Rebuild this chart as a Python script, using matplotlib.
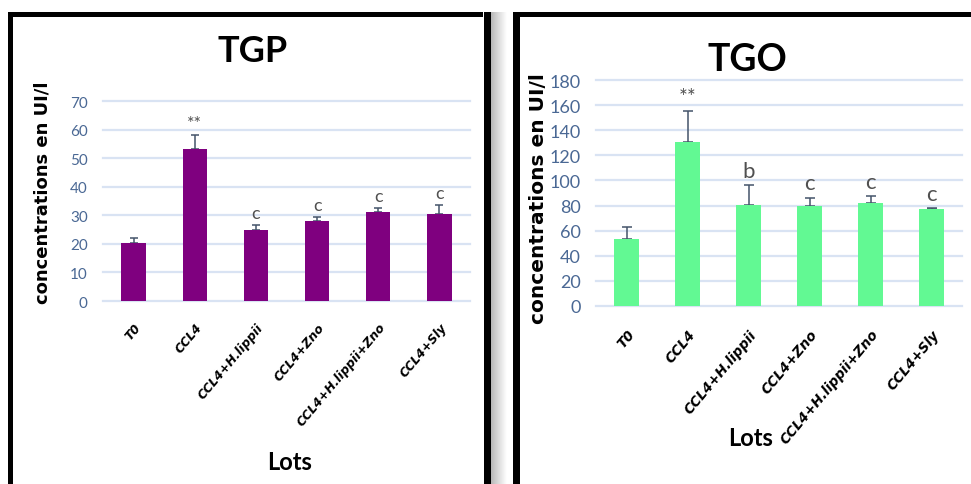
import numpy as np
import matplotlib
matplotlib.use("Agg")
import matplotlib.pyplot as plt
from matplotlib.patches import Rectangle

# ---- data -------------------------------------------------------------
lots = ["T0", "CCL4", "CCL4+H.lippii", "CCL4+Zno", "CCL4+H.lippii+Zno", "CCL4+Sly"]

tgp = [20.2, 53.2, 25.0, 27.9, 31.0, 30.4]
tgp_err = [2.0, 4.8, 1.5, 1.4, 1.5, 3.2]
tgp_sig = ["", "**", "c", "c", "c", "c"]

tgo = [53.2, 130.3, 80.6, 79.3, 81.9, 77.1]
tgo_err = [9.6, 25.0, 15.7, 7.1, 5.8, 1.1]
tgo_sig = ["", "**", "b", "c", "c", "c"]

tgp_ticks = [0, 10, 20, 30, 40, 50, 60, 70]
tgo_ticks = [0, 20, 40, 60, 80, 100, 120, 140, 160, 180]

# ---- style ------------------------------------------------------------
W, H, DPI = 971, 485, 100
NARROW = ["Lato", "DejaVu Sans"]
ITAL = ["DejaVu Sans"]
WIDE = ["DejaVu Sans"]
PURPLE = "#7F007F"
GREEN = "#62F993"
ERR = "#44546A"
TICK = "#4A6894"
GRID = "#D9E3F3"

fig = plt.figure(figsize=(W / DPI, H / DPI), dpi=DPI)
fig.patch.set_facecolor("white")

# background layer in pixel units for the two framed panels
bg = fig.add_axes([0, 0, 1, 1], zorder=-1)
bg.set_xlim(0, W)
bg.set_ylim(H, 0)
bg.axis("off")
# soft drop shadow to the right of the left frame
grad = np.linspace(0.62, 1.0, 64)[None, :] ** 0.7
bg.imshow(grad, extent=(491, 507, H, 13), cmap="gray", vmin=0, vmax=1,
          aspect="auto", interpolation="bilinear", zorder=0)
# left frame
bg.add_patch(Rectangle((8, 13), 483 - 8, 5, color="black", lw=0, zorder=2))
bg.add_patch(Rectangle((8, 13), 5, H, color="black", lw=0, zorder=2))
bg.add_patch(Rectangle((484, 13), 7, H, color="black", lw=0, zorder=2))
# right frame
bg.add_patch(Rectangle((513, 13), W, 5, color="black", lw=0, zorder=2))
bg.add_patch(Rectangle((513, 13), 7, H, color="black", lw=0, zorder=2))
bg.set_xlim(0, W)
bg.set_ylim(H, 0)


def px_axes(x0, ytop, x1, ybot):
    return fig.add_axes([x0 / W, 1 - ybot / H, (x1 - x0) / W, (ybot - ytop) / H])


def panel(ax, vals, errs, sig, ticks, color, title, cfg):
    x = np.arange(len(lots))
    ax.set_facecolor("none")
    ax.set_xlim(-0.5, len(lots) - 0.5)
    ax.set_ylim(ticks[0], ticks[-1])
    for t in ticks:
        ax.axhline(t, color=GRID, lw=1.6, zorder=1, clip_on=False)
    ax.bar(x, vals, width=0.4, color=color, zorder=3)
    ax.errorbar(x, vals, yerr=[np.zeros(len(vals)), errs], fmt="none",
                ecolor=ERR, elinewidth=1.1, capsize=cfg["cap"], capthick=1.1,
                zorder=2)
    for xi, v, e, s in zip(x, vals, errs, sig):
        if s:
            big = s == "**"
            ax.annotate(s, (xi, v + e), xytext=(0, cfg["sig_off"]),
                        textcoords="offset points", ha="center", va="bottom",
                        fontsize=cfg["star_fs"] if big else cfg["sig_fs"],
                        color="#505050", family=NARROW)
    for sp in ax.spines.values():
        sp.set_visible(False)
    ax.set_yticks(ticks)
    ax.set_yticklabels([str(t) for t in ticks], color=TICK,
                       fontsize=cfg["ytick_fs"], family=NARROW)
    ax.set_xticks(x)
    ax.set_xticklabels(lots, rotation=50, ha="right", va="top",
                       rotation_mode="anchor", fontsize=cfg["xtick_fs"],
                       fontweight="bold", fontstyle="italic", family=ITAL)
    ax.tick_params(axis="y", length=0, pad=cfg["ypad"])
    ax.tick_params(axis="x", length=0, pad=cfg["xpad"])
    ax.set_title(title, x=cfg["title_xy"][0], y=cfg["title_xy"][1], pad=0,
                 va="center", fontsize=cfg["title_fs"], fontweight="bold",
                 family=NARROW)
    ax.set_ylabel("concentrations en UI/l", fontsize=cfg["ylab_fs"],
                  fontweight="bold", family=WIDE, va="center")
    ax.yaxis.set_label_coords(*cfg["ylab_xy"])
    ax.set_xlabel("Lots", fontsize=cfg["xlab_fs"], fontweight="bold",
                  family=NARROW, va="center")
    ax.xaxis.set_label_coords(*cfg["xlab_xy"])


ax1 = px_axes(103, 102, 470, 302)
panel(ax1, tgp, tgp_err, tgp_sig, tgp_ticks, PURPLE, "TGP",
      dict(cap=3, sig_off=3, star_fs=13, sig_fs=13, ytick_fs=11,
           xtick_fs=8.8, ypad=11, xpad=14, title_xy=(0.409, 1.25),
           title_fs=26, ylab_fs=13, ylab_xy=(-0.1635, 0.545),
           xlab_fs=17, xlab_xy=(0.5095, -0.80)))

ax2 = px_axes(596, 81, 962, 307)
panel(ax2, tgo, tgo_err, tgo_sig, tgo_ticks, GREEN, "TGO",
      dict(cap=3.5, sig_off=3, star_fs=15, sig_fs=16, ytick_fs=13,
           xtick_fs=9.8, ypad=11, xpad=15, title_xy=(0.4126, 1.093),
           title_fs=27, ylab_fs=14.5, ylab_xy=(-0.158, 0.482),
           xlab_fs=17, xlab_xy=(0.421, -0.58)))

fig.savefig("out.png", dpi=DPI, facecolor="white")
